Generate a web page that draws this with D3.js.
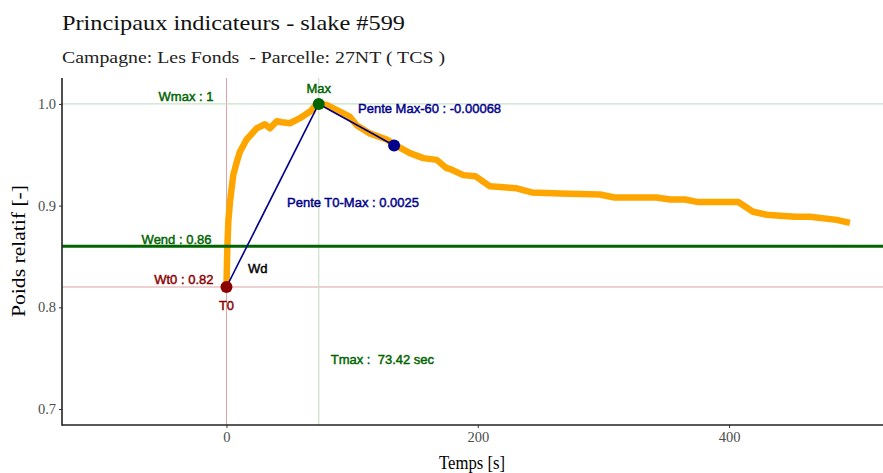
<!DOCTYPE html>
<html lang="fr">
<head>
    <meta charset="UTF-8">
    <title>Principaux indicateurs - slake #599</title>
    <script src="https://d3js.org/d3.v7.min.js"></script>
    <style>
        body { margin: 0; background: #fff; }
        .tick text { font-family: "Liberation Serif", serif; font-size: 14.5px; fill: #4d4d4d; }
        .tick line { stroke: #333; }
        .annot { font-family: "Liberation Sans", Arial, sans-serif; font-size: 13px; stroke-width: 0.45px; }
    </style>
</head>
<body>
    <script>
        // Courbe : temps (s) et poids relatif
        const temps = [0, 0.6, 1.5, 2.8, 5.4, 8, 10.7, 16, 24, 30.6, 34.6, 40, 44, 50.5, 58.5, 66.5, 70.5, 73.42,
            79.7, 90.3, 98, 103.6, 114, 127.5, 135.4, 146, 156.6, 167.3, 175, 178, 188.5, 198, 209.7, 231, 243,
            265.4, 297, 309, 342, 353, 365, 375.5, 407.3, 419, 430, 440.5, 452.4, 464.4, 485.6, 496.2];
        const poids = [0.82, 0.855, 0.885, 0.904, 0.930, 0.942, 0.953, 0.965, 0.976, 0.980, 0.976, 0.983, 0.982, 0.981, 0.986, 0.9925, 0.998, 1.0,
            0.999, 0.9925, 0.9875, 0.979, 0.971, 0.965, 0.9588, 0.9516, 0.9467, 0.945, 0.937, 0.936, 0.930, 0.929, 0.919, 0.917, 0.913,
            0.912, 0.911, 0.908, 0.908, 0.906, 0.906, 0.9035, 0.9035, 0.894, 0.891, 0.890, 0.889, 0.889, 0.886, 0.883];

        // Indicateurs
        const t0 = 0, wt0 = 0.82;
        const tmax = 73.42, wmax = 1;
        const wend = 0.86;
        const penteT0Max = 0.0025;
        const penteMax60 = -0.00068;
        const tmax60 = tmax + 60, wmax60 = wmax + penteMax60 * 60;

        const xTicks = [0, 200, 400];
        const yTicks = [0.7, 0.8, 0.9, 1.0];

        const width = 883, height = 473;
        const pLeft = 62, pRight = 883, pTop = 78, pBottom = 425;

        const svg = d3.select("body").append("svg")
            .attr("width", width)
            .attr("height", height);

        const x = d3.scaleLinear().domain([-130.9, 522.5]).range([pLeft, pRight]);
        const y = d3.scaleLinear().domain([0.6843, 1.0255]).range([pBottom, pTop]);

        // Titre
        svg.append("text")
            .attr("x", 62).attr("y", 30)
            .attr("font-family", "Liberation Serif, serif")
            .attr("font-size", 22)
            .attr("textLength", 343)
            .attr("lengthAdjust", "spacingAndGlyphs")
            .attr("fill", "#111")
            .text("Principaux indicateurs - slake #599");
        svg.append("text")
            .attr("x", 62).attr("y", 63)
            .attr("font-family", "Liberation Serif, serif")
            .attr("font-size", 17.5)
            .attr("textLength", 383)
            .attr("lengthAdjust", "spacingAndGlyphs")
            .attr("fill", "#222")
            .style("white-space", "pre")
            .text("Campagne: Les Fonds  - Parcelle: 27NT ( TCS )");

        // Lignes de référence
        const refs = svg.append("g");
        refs.append("line")
            .attr("x1", x(t0)).attr("x2", x(t0)).attr("y1", pTop).attr("y2", pBottom)
            .attr("stroke", "#dba3a3").attr("stroke-width", 1);
        refs.append("line")
            .attr("x1", pLeft).attr("x2", pRight).attr("y1", y(wt0)).attr("y2", y(wt0))
            .attr("stroke", "#dba3a3").attr("stroke-width", 1);
        refs.append("line")
            .attr("x1", x(tmax)).attr("x2", x(tmax)).attr("y1", pTop).attr("y2", pBottom)
            .attr("stroke", "#c9e0c9").attr("stroke-width", 1.2);
        refs.append("line")
            .attr("x1", pLeft).attr("x2", pRight).attr("y1", y(wmax)).attr("y2", y(wmax))
            .attr("stroke", "#c9e0c9").attr("stroke-width", 1.2);

        // Courbe
        const line = d3.line().x((d, i) => x(temps[i])).y(d => y(d));
        svg.append("path")
            .datum(poids)
            .attr("d", line)
            .attr("fill", "none")
            .attr("stroke", "#ffa500")
            .attr("stroke-width", 6.5)
            .attr("stroke-linejoin", "round");

        // Wend
        svg.append("line")
            .attr("x1", pLeft).attr("x2", pRight).attr("y1", y(wend)).attr("y2", y(wend))
            .attr("stroke", "#006400").attr("stroke-width", 3);

        // Pentes
        svg.append("line")
            .attr("x1", x(t0)).attr("y1", y(wt0)).attr("x2", x(tmax)).attr("y2", y(wmax))
            .attr("stroke", "#00008b").attr("stroke-width", 1.6);
        svg.append("line")
            .attr("x1", x(tmax)).attr("y1", y(wmax)).attr("x2", x(tmax60)).attr("y2", y(wmax60))
            .attr("stroke", "#00008b").attr("stroke-width", 1.6);

        // Points
        svg.append("circle").attr("cx", x(t0)).attr("cy", y(wt0)).attr("r", 6).attr("fill", "#8b0000");
        svg.append("circle").attr("cx", x(tmax)).attr("cy", y(wmax)).attr("r", 6).attr("fill", "#006400");
        svg.append("circle").attr("cx", x(tmax60)).attr("cy", y(wmax60)).attr("r", 6).attr("fill", "#00008b");

        // Annotations
        const annots = [
            { text: "Wmax : " + wmax, x: x(t0) - 13, y: y(wmax) - 3, anchor: "end", color: "#006400" },
            { text: "Wend : " + wend, x: x(t0) - 15, y: y(wend) - 2.5, anchor: "end", color: "#006400" },
            { text: "Wt0 : " + wt0, x: x(t0) - 13, y: y(wt0) - 3, anchor: "end", color: "#8b0000" },
            { text: "T0", x: x(t0), y: y(wt0) + 23, anchor: "middle", color: "#8b0000" },
            { text: "Max", x: x(tmax), y: y(wmax) - 11, anchor: "middle", color: "#006400" },
            { text: "Pente Max-60 : " + penteMax60, x: 358, y: 113, anchor: "start", color: "#00008b" },
            { text: "Pente T0-Max : " + penteT0Max, x: 287, y: 206.5, anchor: "start", color: "#00008b" },
            { text: "Wd", x: 248, y: 273, anchor: "start", color: "#000" },
            { text: "Tmax :  " + tmax + " sec", x: x(tmax) + 12, y: 364, anchor: "start", color: "#006400" }
        ];
        svg.append("g").selectAll("text")
            .data(annots)
            .enter().append("text")
            .attr("class", "annot")
            .attr("x", d => d.x)
            .attr("y", d => d.y)
            .attr("text-anchor", d => d.anchor)
            .attr("fill", d => d.color)
            .attr("stroke", d => d.color)
            .style("white-space", "pre")
            .text(d => d.text);

        // Axes
        const xAxis = svg.append("g")
            .attr("transform", `translate(0,${pBottom})`)
            .call(d3.axisBottom(x).tickValues(xTicks).tickSize(3).tickPadding(4));
        xAxis.select(".domain").remove();

        const yAxis = svg.append("g")
            .attr("transform", `translate(${pLeft},0)`)
            .call(d3.axisLeft(y).tickValues(yTicks).tickFormat(d3.format(".1f")).tickSize(3).tickPadding(3));
        yAxis.select(".domain").remove();

        svg.append("line").attr("x1", pLeft).attr("x2", pRight).attr("y1", pBottom).attr("y2", pBottom)
            .attr("stroke", "#222").attr("stroke-width", 1.6);
        svg.append("line").attr("x1", pLeft).attr("x2", pLeft).attr("y1", pTop).attr("y2", pBottom + 0.8)
            .attr("stroke", "#222").attr("stroke-width", 1.6);

        // Titres des axes
        svg.append("text")
            .attr("x", 472).attr("y", 469)
            .attr("text-anchor", "middle")
            .attr("font-family", "Liberation Serif, serif")
            .attr("font-size", 18)
            .attr("textLength", 66)
            .attr("lengthAdjust", "spacingAndGlyphs")
            .text("Temps [s]");
        svg.append("text")
            .attr("transform", `translate(25,251) rotate(-90)`)
            .attr("text-anchor", "middle")
            .attr("font-family", "Liberation Serif, serif")
            .attr("font-size", 18)
            .attr("textLength", 132)
            .attr("lengthAdjust", "spacingAndGlyphs")
            .text("Poids relatif [-]");
    </script>
</body>
</html>
